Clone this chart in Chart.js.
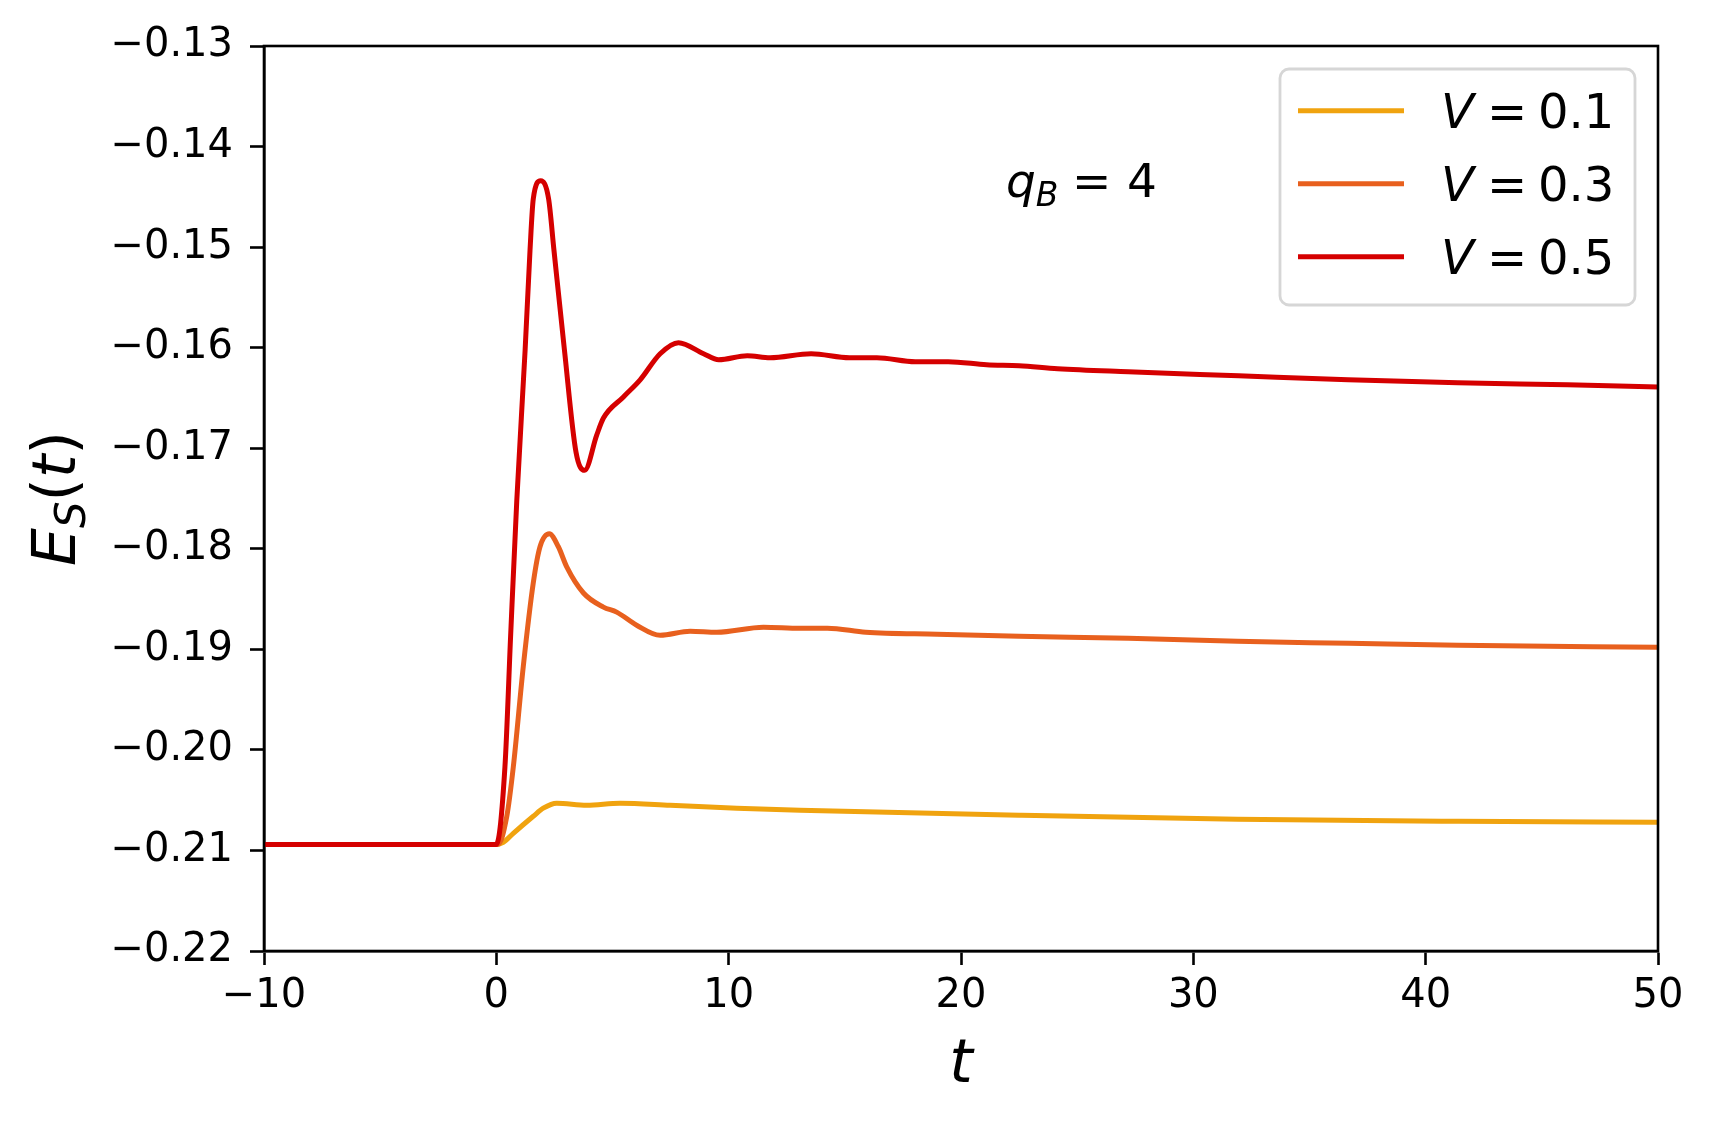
<!DOCTYPE html>
<html>
<head>
<meta charset="utf-8">
<script src="https://cdn.jsdelivr.net/npm/chart.js@4.4.0/dist/chart.umd.min.js"></script>
<style>
  html, body { margin: 0; padding: 0; background: #fff; }
  canvas { display: block; }
</style>
</head>
<body>
<canvas id="graph1" width="1715" height="1126"></canvas>
<script>
// values
const vLabels = ["0.1", "0.3", "0.5"];
const colors = ["#f0a30f", "#e8601e", "#d50000"];

const tV01 = [-10, 0, 0.3, 0.73, 1.59, 2.02, 2.6, 3.89, 5.32, 7.48, 10.35, 13.07, 22.5, 31.9, 41.4, 50];
const eV01 = [-0.2094, -0.2094, -0.2092, -0.2083, -0.2066, -0.2058, -0.2053, -0.2055, -0.2053, -0.2055, -0.2058, -0.2060, -0.2065, -0.2069, -0.2071, -0.2072];

const tV03 = [-10, 0, 0.07, 0.45, 0.73, 1.16, 1.59, 1.88, 2.28, 2.67, 3.03, 3.75, 4.61, 5.18, 6.04, 7.05, 8.34, 9.49, 11.5, 13.07, 14.25, 15.9, 18.97, 22.5, 27.2, 31.9, 36.7, 41.4, 50];
const eV03 = [-0.2094, -0.2094, -0.2094, -0.2066, -0.2017, -0.1917, -0.1834, -0.1798, -0.1785, -0.1798, -0.1818, -0.1844, -0.1858, -0.1863, -0.1876, -0.1886, -0.1882, -0.1883, -0.1878, -0.1879, -0.1879, -0.1883, -0.1885, -0.1887, -0.1889, -0.1892, -0.1894, -0.1896, -0.1898];

const tV05 = [-10, 0, 0.37, 0.62, 0.88, 1.24, 1.45, 1.59, 1.91, 2.25, 2.48, 2.93, 3.43, 3.8, 4.32, 4.61, 5.47, 6.19, 7.05, 7.84, 8.92, 9.57, 10.8, 11.78, 13.55, 15.2, 16.38, 18.03, 19.45, 21.1, 22.5, 24.16, 27.2, 31.95, 36.66, 41.38, 46.1, 50];
const eV05 = [-0.2094, -0.2094, -0.2017, -0.1884, -0.1752, -0.1602, -0.1503, -0.1452, -0.1434, -0.1452, -0.1503, -0.1602, -0.1704, -0.1722, -0.1687, -0.1670, -0.1649, -0.1632, -0.1606, -0.1595, -0.1606, -0.1612, -0.1608, -0.1610, -0.1606, -0.1610, -0.1610, -0.1614, -0.1614, -0.1617, -0.1618, -0.1621, -0.1624, -0.1628, -0.1632, -0.1635, -0.1637, -0.1639];

const xTicks = [-10, 0, 10, 20, 30, 40, 50];
const yMin = -0.22, yMax = -0.13;

function pts(t, e) {
  return t.map((v, i) => ({x: v, y: e[i]}));
}
function minus(s) {
  return String(s).replace("-", "\u2212");
}

const FONT = "DejaVu Sans";

// top/right spines, annotation, axis titles
const decor = {
  id: "decor",
  afterDatasetsDraw(chart) {
    const ctx = chart.ctx, a = chart.chartArea;
    ctx.save();
    ctx.strokeStyle = "#000";
    ctx.lineWidth = 2.6;
    ctx.strokeRect(a.left, a.top, a.right - a.left, a.bottom - a.top);

    ctx.fillStyle = "#000";
    ctx.textBaseline = "alphabetic";
    ctx.textAlign = "left";

    // q_B = 4
    let x = 1006, base = 197;
    ctx.font = "italic 47px '" + FONT + "'";
    ctx.fillText("q", x, base);
    x += ctx.measureText("q").width;
    ctx.font = "italic 33px '" + FONT + "'";
    ctx.fillText("B", x, base + 9);
    ctx.font = "47px '" + FONT + "'";
    ctx.fillText("=", 1072, base);
    ctx.fillText("4", 1127, base);

    // x title
    ctx.font = "italic 60px '" + FONT + "'";
    ctx.textAlign = "center";
    ctx.fillText("t", (a.left + a.right) / 2, 1082);

    // y title E_S(t)
    ctx.textAlign = "left";
    const parts = [
      ["E", "italic 60px", 0],
      ["S", "italic 42px", 10],
      ["(", "60px", 0],
      ["t", "italic 60px", 0],
      [")", "60px", 0]
    ];
    let total = 0;
    parts.forEach(p => { ctx.font = p[1] + " '" + FONT + "'"; total += ctx.measureText(p[0]).width; });
    ctx.translate(75, (a.top + a.bottom) / 2);
    ctx.rotate(-Math.PI / 2);
    let px = -total / 2;
    parts.forEach(p => {
      ctx.font = p[1] + " '" + FONT + "'";
      ctx.fillText(p[0], px, p[2]);
      px += ctx.measureText(p[0]).width;
    });
    ctx.restore();
  }
};

const legendBox = {
  id: "legendBox",
  afterDraw(chart) {
    const ctx = chart.ctx;
    ctx.save();
    ctx.beginPath();
    ctx.roundRect(1280, 69, 355, 236, 9);
    ctx.fillStyle = "rgba(255,255,255,0.8)";
    ctx.fill();
    ctx.strokeStyle = "#d6d6d6";
    ctx.lineWidth = 2.8;
    ctx.stroke();
    chart.data.datasets.forEach((ds, i) => {
      const ly = 110.7 + i * 73;
      ctx.strokeStyle = ds.borderColor;
      ctx.lineWidth = 5;
      ctx.beginPath();
      ctx.moveTo(1298, ly);
      ctx.lineTo(1404, ly);
      ctx.stroke();
      ctx.fillStyle = "#000";
      ctx.textAlign = "left";
      ctx.textBaseline = "alphabetic";
      ctx.font = "italic 48px '" + FONT + "'";
      ctx.fillText("V", 1441, ly + 17.6);
      ctx.font = "48px '" + FONT + "'";
      ctx.fillText("=", 1487, ly + 17.6);
      ctx.fillText(vLabels[i], 1538, ly + 17.6);
    });
    ctx.restore();
  }
};

function series(t, e, i) {
  return {
    label: "V = " + vLabels[i],
    data: pts(t, e),
    borderColor: colors[i],
    backgroundColor: colors[i],
    borderWidth: 5,
    pointRadius: 0,
    fill: false,
    cubicInterpolationMode: "monotone",
    borderJoinStyle: "round",
    order: 2 - i
  };
}

var graph1 = new Chart("graph1", {
  type: "line",
  data: {
    datasets: [
      series(tV01, eV01, 0),
      series(tV03, eV03, 1),
      series(tV05, eV05, 2)
    ]
  },
  options: {
    responsive: false,
    animation: false,
    devicePixelRatio: 1,
    layout: { padding: { top: 46, right: 57, left: 0, bottom: 0 } },
    plugins: { legend: { display: false }, tooltip: { enabled: false } },
    scales: {
      x: {
        type: "linear",
        min: -10,
        max: 50,
        afterFit: s => { s.height = 175; },
        afterBuildTicks: s => { s.ticks = xTicks.map(v => ({value: v})); },
        ticks: {
          color: "#000",
          padding: 8,
          maxRotation: 0,
          font: { family: FONT, size: 40 },
          callback: v => minus(v)
        },
        grid: { drawOnChartArea: false, tickLength: 14, tickWidth: 2.6, tickColor: "#000" },
        border: { display: true, color: "#000", width: 2.6 }
      },
      y: {
        type: "linear",
        min: yMin,
        max: yMax,
        afterFit: s => { s.width = 264; },
        ticks: {
          stepSize: 0.01,
          color: "#000",
          padding: 17,
          font: { family: FONT, size: 40 },
          callback: v => minus(v.toFixed(2))
        },
        grid: { drawOnChartArea: false, tickLength: 14, tickWidth: 2.6, tickColor: "#000" },
        border: { display: true, color: "#000", width: 2.6 }
      }
    }
  },
  plugins: [decor, legendBox]
});
</script>
</body>
</html>
